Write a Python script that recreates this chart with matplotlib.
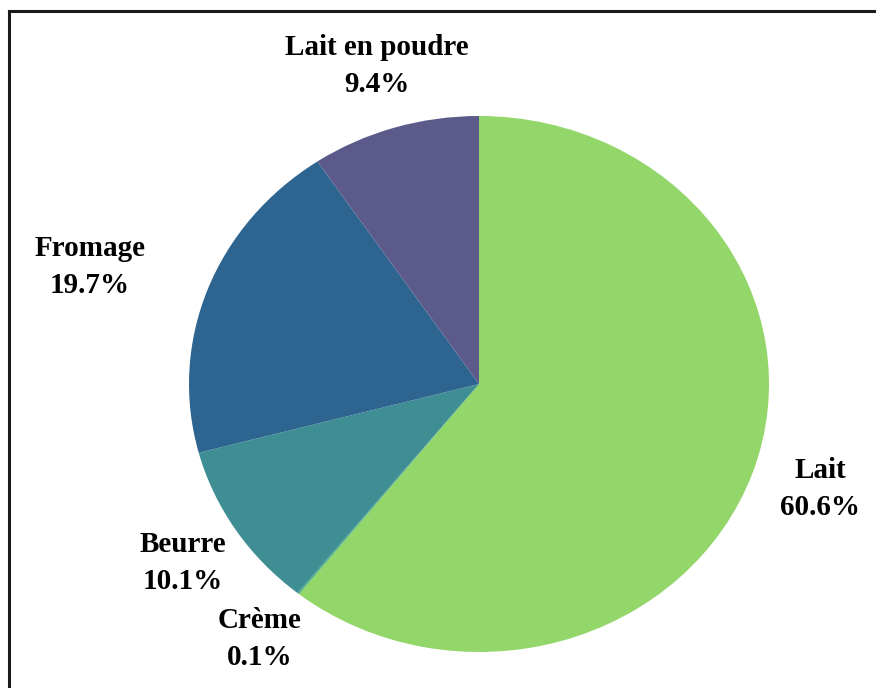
import matplotlib
matplotlib.use("Agg")
import matplotlib.pyplot as plt
from matplotlib.lines import Line2D

categories = ["Lait", "Crème", "Beurre", "Fromage", "Lait en poudre"]
values = [60.6, 0.1, 10.1, 19.7, 9.4]
colors = ["#93D66A", "#4AAE86", "#3F8E93", "#2D6590", "#5B5A8B"]

W, H = 876, 688
fig = plt.figure(figsize=(W / 100, H / 100), dpi=100)
fig.patch.set_facecolor("white")

# pie axes (slightly elliptical as in the reference)
cx, cy, rx, ry = 479, 384, 290, 268
ax = fig.add_axes([(cx - rx) / W, (H - cy - ry) / H, 2 * rx / W, 2 * ry / H])
ax.pie(values, colors=colors, startangle=90, counterclock=False,
       wedgeprops=dict(linewidth=0))
ax.set_aspect("auto")
ax.set_xlim(-1, 1)
ax.set_ylim(-1, 1)
ax.axis("off")

# frame (left and top edges visible)
fig.add_artist(Line2D([8.5 / W, 8.5 / W], [0, 1 - 11 / H], transform=fig.transFigure,
                      color="#1a1a1a", lw=2.2))
fig.add_artist(Line2D([8.5 / W, 1], [1 - 11 / H, 1 - 11 / H], transform=fig.transFigure,
                      color="#1a1a1a", lw=2.2))

label_pos = {
    "Lait": (820, 489),
    "Crème": (260, 639),
    "Beurre": (183, 563),
    "Fromage": (90, 267),
    "Lait en poudre": (377, 66),
}
for cat, val in zip(categories, values):
    px, py = label_pos[cat]
    fig.text(px / W, 1 - py / H, f"{cat}\n{val:.1f}%", ha="center", va="center",
             fontsize=21, fontweight="bold", family="Liberation Serif",
             linespacing=1.5, color="black")

fig.savefig("out.png", dpi=100, facecolor="white")
